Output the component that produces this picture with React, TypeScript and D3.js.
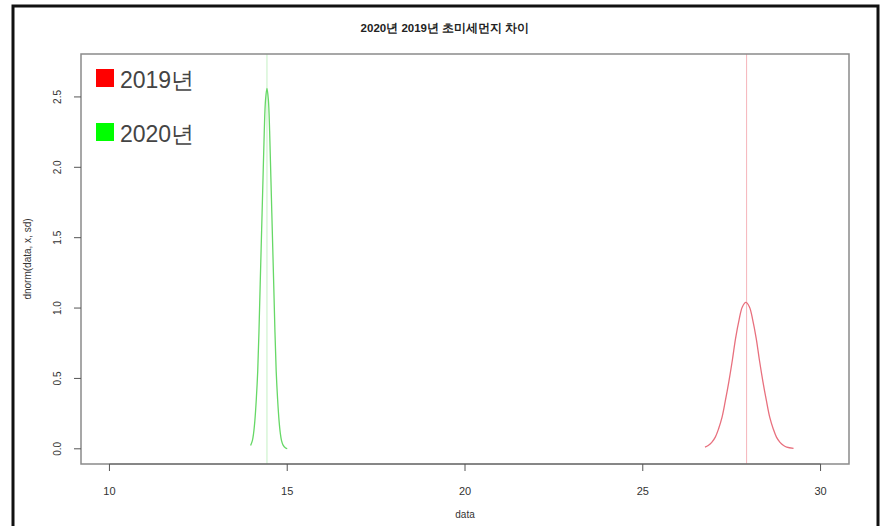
import React from "react";
import * as d3 from "d3";

const title = "2020년 2019년 초미세먼지 차이";
const xTitle = "data";
const yTitle = "dnorm(data, x, sd)";
const xTicks = [10, 15, 20, 25, 30];
const yTicks = [0, 0.5, 1, 1.5, 2, 2.5];
const legendLabels = ["2019년", "2020년"];

// density curve of 2019 (red)
const x2019 = [
  26.75, 26.84, 26.94, 27.04, 27.13, 27.23, 27.32, 27.42, 27.52, 27.61, 27.71, 27.8, 27.9,
  28.0, 28.09, 28.19, 28.28, 28.38, 28.48, 28.57, 28.67, 28.76, 28.86, 28.96, 29.05, 29.24,
];
const y2019 = [
  0.012, 0.024, 0.046, 0.083, 0.141, 0.225, 0.338, 0.476, 0.631, 0.785, 0.918, 1.008, 1.04,
  1.008, 0.918, 0.785, 0.631, 0.476, 0.338, 0.225, 0.141, 0.083, 0.046, 0.024, 0.012, 0.003,
];

// density curve of 2020 (green)
const x2020 = [
  13.97, 14.02, 14.055, 14.09, 14.13, 14.17, 14.205, 14.24, 14.28, 14.32, 14.355, 14.39, 14.43,
  14.47, 14.505, 14.54, 14.58, 14.62, 14.655, 14.69, 14.73, 14.77, 14.805, 14.84, 14.88, 14.955, 15.0,
];
const y2020 = [
  0.024, 0.058, 0.112, 0.2, 0.35, 0.55, 0.83, 1.17, 1.55, 1.93, 2.26, 2.48, 2.56,
  2.48, 2.26, 1.93, 1.55, 1.17, 0.83, 0.55, 0.35, 0.2, 0.112, 0.058, 0.028, 0.006, 0.002,
];

const means = [27.92, 14.43];
const colors = ["#ff0000", "#00ff00"];

const App = () => {
  const left = 81, right = 849, top = 54, bottom = 464;
  const x = d3.scaleLinear().domain([9.2, 30.8]).range([left, right]);
  const y = d3.scaleLinear().domain([-0.108, 2.805]).range([bottom, top]);

  const path = (xs: number[], ys: number[]) =>
    d3
      .line<number>()
      .curve(d3.curveCatmullRom)
      .x((d) => x(d))
      .y((_, i) => y(ys[i]))(xs) || "";

  const font = "'Liberation Sans', Arial, sans-serif";

  return (
    <svg width={881} height={526} style={{ position: "absolute", left: 0, top: 0, background: "#fff" }}>
      <rect x={13} y={6} width={865} height={530} fill="#fff" stroke="#111" strokeWidth={3} />
      <text x={445} y={32} textAnchor="middle" fontFamily={font} fontSize={11.5} fontWeight="bold" fill="#222">
        {title}
      </text>

      {/* mean lines */}
      <line x1={x(means[0])} x2={x(means[0])} y1={top} y2={bottom} stroke="#f5b4ba" strokeWidth={1} />
      <line x1={x(means[1])} x2={x(means[1])} y1={top} y2={bottom} stroke="#c4f0c4" strokeWidth={1} />

      <path d={path(x2019, y2019)} fill="none" stroke="#e8707e" strokeWidth={1.3} />
      <path d={path(x2020, y2020)} fill="none" stroke="#66d866" strokeWidth={1.3} />

      <rect x={left} y={top} width={right - left} height={bottom - top} fill="none" stroke="#8a8a8a" strokeWidth={1.5} />

      {/* x axis */}
      <line x1={x(xTicks[0])} x2={x(xTicks[xTicks.length - 1])} y1={bottom} y2={bottom} stroke="#666" />
      {xTicks.map((t) => (
        <g key={t}>
          <line x1={x(t)} x2={x(t)} y1={bottom} y2={bottom + 7} stroke="#555" />
          <text x={x(t)} y={495} textAnchor="middle" fontFamily={font} fontSize={11} fill="#333">
            {t}
          </text>
        </g>
      ))}
      <text x={(left + right) / 2} y={518} textAnchor="middle" fontFamily={font} fontSize={10} fill="#333">
        {xTitle}
      </text>

      {/* y axis */}
      {yTicks.map((t) => (
        <g key={t}>
          <line x1={left - 7} x2={left} y1={y(t)} y2={y(t)} stroke="#555" />
          <text
            transform={`translate(61,${y(t)}) rotate(-90)`}
            textAnchor="middle"
            fontFamily={font}
            fontSize={10}
            fill="#333"
          >
            {t.toFixed(1)}
          </text>
        </g>
      ))}
      <text
        transform={`translate(31,${(top + bottom) / 2}) rotate(-90)`}
        textAnchor="middle"
        fontFamily={font}
        fontSize={10}
        fill="#333"
      >
        {yTitle}
      </text>

      {/* legend */}
      {legendLabels.map((l, i) => (
        <g key={l}>
          <rect x={96} y={69 + i * 54} width={18} height={18} fill={colors[i]} />
          <text x={120} y={88 + i * 54} fontFamily={font} fontSize={23} fill="#444">
            {l}
          </text>
        </g>
      ))}
    </svg>
  );
};

export default App;
